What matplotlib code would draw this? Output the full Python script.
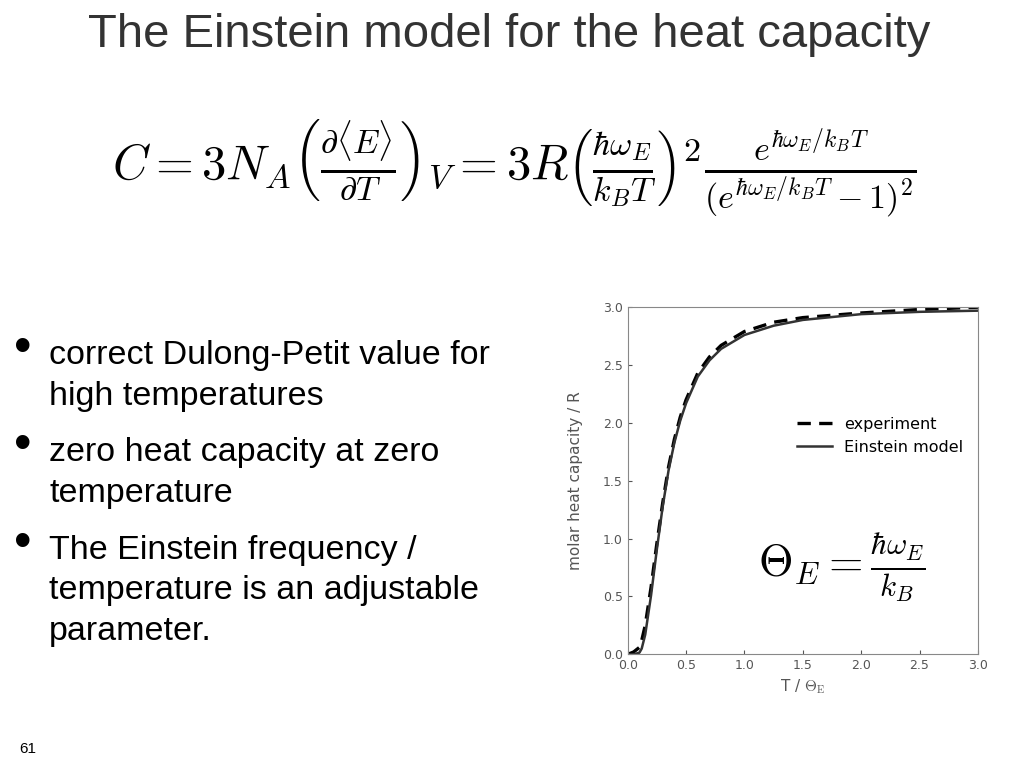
import matplotlib
matplotlib.use("Agg")
import matplotlib.pyplot as plt

t_model = [0.0, 0.05, 0.1, 0.12, 0.15, 0.2, 0.25, 0.3, 0.35, 0.4, 0.45, 0.5, 0.6, 0.7, 0.8, 1.0, 1.25, 1.5, 2.0, 2.5, 3.0]
c_model = [0.0, 0.0, 0.014, 0.05, 0.17, 0.51, 0.91, 1.28, 1.59, 1.83, 2.02, 2.17, 2.40, 2.54, 2.64, 2.76, 2.84, 2.89, 2.94, 2.96, 2.97]
t_exp = [0.0, 0.05, 0.1, 0.12, 0.15, 0.2, 0.25, 0.3, 0.35, 0.4, 0.45, 0.5, 0.6, 0.7, 0.8, 1.0, 1.25, 1.5, 2.0, 2.5, 3.0]
c_exp = [0.0, 0.02, 0.06, 0.12, 0.25, 0.58, 0.96, 1.31, 1.62, 1.86, 2.05, 2.20, 2.43, 2.57, 2.67, 2.79, 2.87, 2.91, 2.95, 2.98, 3.00]
ticks = [0.0, 0.5, 1.0, 1.5, 2.0, 2.5, 3.0]

plt.rcParams['mathtext.fontset'] = 'cm'
fig = plt.figure(figsize=(10.24, 7.68), dpi=100)
fig.text(0.497, 0.955, "The Einstein model for the heat capacity", ha='center', va='center',
         fontsize=34, color='#333333', family='Liberation Sans')
fig.text(0.502, 0.78, r'$C = 3N_A\left(\frac{\partial\langle E\rangle}{\partial T}\right)_V = 3R\left(\frac{\hbar\omega_E}{k_BT}\right)^2\frac{e^{\hbar\omega_E/k_BT}}{(e^{\hbar\omega_E/k_BT}-1)^2}$',
         ha='center', va='center', fontsize=35)
bullets = [(0.545, "correct Dulong-Petit value for\nhigh temperatures"),
           (0.419, "zero heat capacity at zero\ntemperature"),
           (0.292, "The Einstein frequency /\ntemperature is an adjustable\nparameter.")]
for y, s in bullets:
    fig.text(0.022, y, "\u2022", fontsize=36, va='center', ha='center', family='Liberation Sans')
    fig.text(0.048, y + 0.012, s, fontsize=24.5, va='top', linespacing=1.4, family='Liberation Sans')
fig.text(0.027, 0.02, "61", fontsize=11, ha='center', family='Liberation Sans')

ax = fig.add_axes([0.613, 0.148, 0.342, 0.452])
ax.plot(t_exp, c_exp, 'k--', lw=2.4, dashes=(4, 2.5), label='experiment')
ax.plot(t_model, c_model, color='#333333', lw=1.8, label='Einstein model')
ax.set_xlim(0, 3)
ax.set_ylim(0, 3)
ax.set_xticks(ticks)
ax.set_yticks(ticks)
ax.set_xticklabels([f"{v:.1f}" for v in ticks])
ax.set_yticklabels([f"{v:.1f}" for v in ticks])
ax.tick_params(labelsize=9, colors='#555555', direction='in', length=3)
for sp in ax.spines.values():
    sp.set_color('#888888')
ax.set_xlabel(r"T / $\Theta_\mathrm{E}$", fontsize=11, color='#555555')
ax.set_ylabel("molar heat capacity / R", fontsize=11, color='#555555', labelpad=14)
ax.legend(loc='center right', bbox_to_anchor=(1.0, 0.63), frameon=False, fontsize=11.5, handlelength=2.2)
ax.text(0.61, 0.25, r'$\Theta_E = \frac{\hbar\omega_E}{k_B}$', transform=ax.transAxes,
        ha='center', va='center', fontsize=32)
fig.savefig("out.png", dpi=100)
